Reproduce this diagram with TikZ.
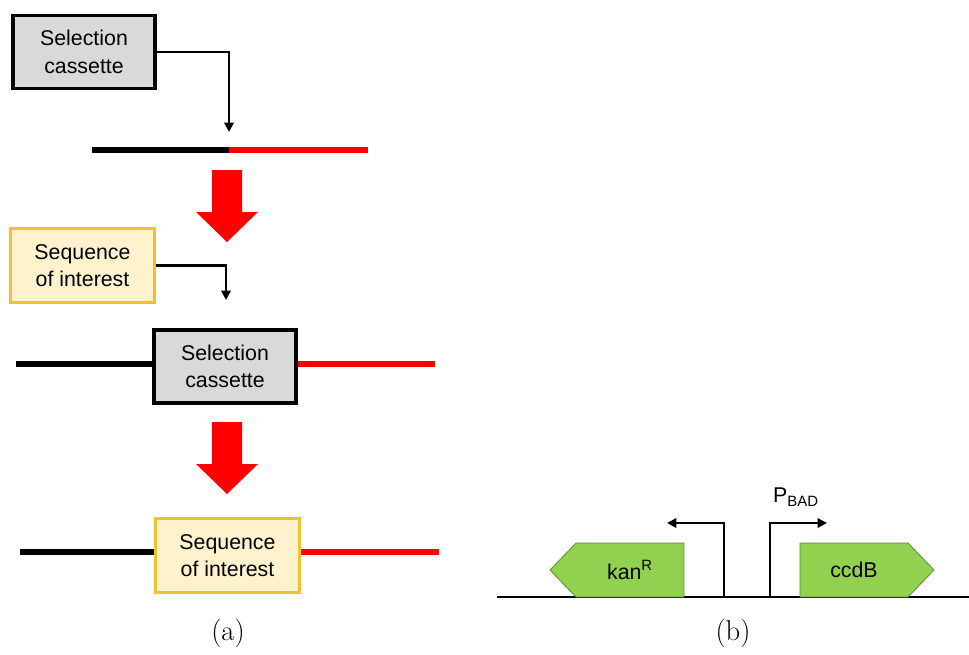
\documentclass[tikz,border=0pt]{standalone}
\usepackage{fontspec}
\newfontfamily\arial{Liberation Sans}
\usetikzlibrary{arrows.meta,shapes.symbols}
\definecolor{boxgray}{HTML}{D9D9D9}
\definecolor{soifill}{HTML}{FFF2CC}
\definecolor{soiline}{HTML}{F5C030}
\definecolor{genefill}{HTML}{92D050}
\definecolor{geneline}{HTML}{5E8C31}
\tikzset{
  lbl/.style={font=\arial\fontsize{16}{20.5}\selectfont,align=center},
  selbox/.style={lbl,draw=black,line width=2.6pt,fill=boxgray,minimum width=142*0.75pt,minimum height=73*0.75pt,inner sep=0pt},
  soibox/.style={lbl,draw=soiline,line width=2.2pt,fill=soifill,minimum width=144*0.75pt,minimum height=74*0.75pt,inner sep=0pt},
  conn/.style={line width=2pt,-{Triangle[length=7pt,width=7pt]}},
  dna/.style={line width=4pt},
  gene/.style={lbl,signal,draw=geneline,line width=0.6pt,fill=genefill,minimum width=134*0.75pt,minimum height=54*0.75pt,signal pointer angle=92,inner sep=0pt},
  prom/.style={line width=2.2pt,-{Triangle[length=7pt,width=7pt]}},
  downarrow/.pic={
    \fill[red] (-15,0) -- (15,0) -- (15,42) -- (31,42) -- (0,72) -- (-31,42) -- (-15,42) -- cycle;
  }
}
\begin{document}
\begin{tikzpicture}[x=0.75pt,y=-0.75pt]
  \useasboundingbox (0,0) rectangle (969,654);
  % (a) first step
  \node[selbox] (sel1) at (84,52) {Selection\\cassette};
  \coordinate (tip1) at (229,132);
  \draw[conn] (sel1.east) -| (tip1);
  \coordinate (l1) at (92,150);
  \coordinate (m1) at (229,150);
  \coordinate (r1) at (368,150);
  \draw[dna,black] (l1) -- (m1);
  \draw[dna,red] (m1) -- (r1);
  \pic at (227,170) {downarrow};
  % (a) second step
  \node[soibox] (soi1) at (82.5,265.5) {Sequence\\of interest};
  \coordinate (tip2) at (226,300);
  \draw[conn] (soi1.east) -| (tip2);
  \node[selbox] (sel2) at (225,366.5) {Selection\\cassette};
  \coordinate (l2) at (16,364);
  \coordinate (r2) at (435,364);
  \draw[dna,black] (l2) -- (sel2.west |- l2);
  \draw[dna,red] (sel2.east |- r2) -- (r2);
  \pic at (227,422) {downarrow};
  % (a) result
  \node[soibox] (soi2) at (227.5,555.5) {Sequence\\of interest};
  \coordinate (l3) at (20,552);
  \coordinate (r3) at (439,552);
  \draw[dna,black] (l3) -- (soi2.west |- l3);
  \draw[dna,red] (soi2.east |- r3) -- (r3);
  \node (capa) at (228,633) {\fontsize{21.5}{25}\selectfont(a)};
  % (b)
  \coordinate (b0) at (497,597);
  \coordinate (b1) at (969,597);
  \draw[line width=0.8pt] (b0) -- (b1);
  \node[gene,signal to=west] (kan) at (630,570) {kan\textsuperscript{R}};
  \node[gene,signal to=east] (ccdb) at (854,570) {ccdB};
  \coordinate (pl) at (724,597);
  \coordinate (plt) at (667,523);
  \draw[prom] (pl) |- (plt);
  \coordinate (pr) at (770,597);
  \coordinate (prt) at (827,523);
  \draw[prom] (pr) |- (prt);
  \node[lbl] (pbad) at (796,497) {P\textsubscript{BAD}};
  \node (capb) at (733,633) {\fontsize{21.5}{25}\selectfont(b)};
\end{tikzpicture}
\end{document}
